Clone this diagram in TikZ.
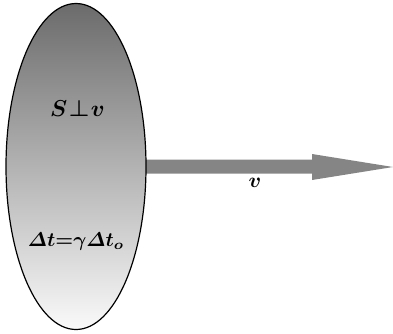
\documentclass[tikz,border=0pt]{standalone}
\usepackage{amsmath}
\usetikzlibrary{shapes.geometric}
\newcommand{\biglbl}[2][2.0]{\scalebox{#1}{\boldmath$#2$}}
\begin{document}
\begin{tikzpicture}[x=1pt,y=-1pt,
  lbl/.style={inner sep=0pt},
  body/.style={ellipse, draw=black, line width=1.2pt, minimum width=140pt, minimum height=326pt, inner sep=0pt, shading angle=0},
  arr/.style={fill=black!48, draw=none}]
\useasboundingbox (0,0) rectangle (393,333);
\fill[arr] (140,159.5) -- (312,159.5) -- (312,154) -- (393,167) -- (312,180) -- (312,173.5) -- (140,173.5) -- cycle;
\node[body, top color=black!58, bottom color=black!2] (e) at (76,166.5) {};
\node[lbl] (s) at (77.5,109) {\biglbl[2.3]{S{\mkern1mu\perp\mkern1mu}v}};
\node[lbl] (t) at (76,242) {\biglbl[2.0]{\varDelta t{=}\gamma\varDelta t_o}};
\node[lbl] (v) at (255,183) {\biglbl[2.1]{v}};
\end{tikzpicture}
\end{document}
